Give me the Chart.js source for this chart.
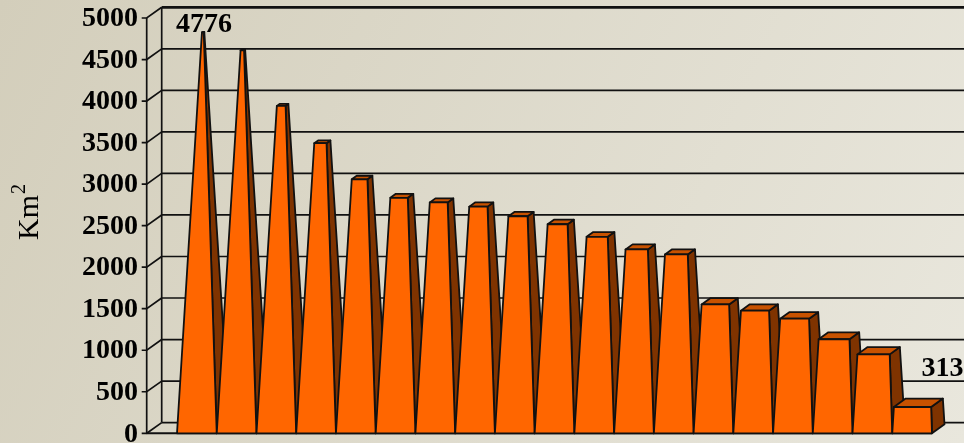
<!DOCTYPE html>
<html>
<head>
<meta charset="utf-8">
<script src="https://cdn.jsdelivr.net/npm/chart.js@4/dist/chart.umd.min.js"></script>
<style>
  html, body { margin: 0; padding: 0; overflow: hidden; background: #dcd8c7; }
  canvas { display: block; }
</style>
</head>
<body>
<canvas id="chart" width="964" height="443"></canvas>
<script>
'use strict';

// ── Data ─────────────────────────────────────────────────────────────────────
const categories = ['1','2','3','4','5','6','7','8','9','10','11','12','13','14','15','16','17','18','19'];
const areas      = [4776, 4560, 3900, 3455, 3025, 2805, 2750, 2700, 2585, 2490, 2340, 2190, 2130, 1535, 1460, 1365, 1120, 940, 313];
const yTicks     = [0, 500, 1000, 1500, 2000, 2500, 3000, 3500, 4000, 4500, 5000];
const labelled   = [0, 18];          // bars that carry a value label
const axisTitle  = 'Km';

// ── 3D look ──────────────────────────────────────────────────────────────────
const FRONT_X = 146.7;                       // front edge of the side wall
const WALL = { dx: 15, dy: -10.7 };          // depth of the back wall
const BAR  = { dx: 12.5, dy: -9 };           // depth of each pyramid
const INK  = '#111';
const SERIF = '"Liberation Serif", "Times New Roman", serif';
const LABEL_NUDGE = { 0: [1, 0], 18: [24, -27] };

const pyramid3d = {
  id: 'pyramid3d',

  beforeDraw(chart) {
    const { ctx, width, height } = chart;
    const y = chart.scales.y;
    const g = ctx.createLinearGradient(0, 0, width, height);
    g.addColorStop(0, '#d3cebb');
    g.addColorStop(1, '#e9e7dd');
    ctx.save();
    ctx.fillStyle = g;
    ctx.fillRect(0, 0, width, height);

    // tick labels
    ctx.fillStyle = '#000';
    ctx.font = 'bold 28px ' + SERIF;
    ctx.textAlign = 'right';
    ctx.textBaseline = 'middle';
    yTicks.forEach(v => ctx.fillText(String(v), 138, y.getPixelForValue(v) + 1));

    // y axis title, rotated, with a raised "2"
    ctx.translate(38, 240);
    ctx.rotate(-Math.PI / 2);
    ctx.textBaseline = 'alphabetic';
    ctx.textAlign = 'left';
    ctx.font = '30px ' + SERIF;
    ctx.fillText(axisTitle, 0, 0);
    const w = ctx.measureText(axisTitle).width;
    ctx.font = '20px ' + SERIF;
    ctx.fillText('2', w + 1, -13);
    ctx.restore();
  },

  beforeDatasetsDraw(chart) {
    const { ctx, width } = chart;
    const y = chart.scales.y;
    const backX = FRONT_X + WALL.dx;
    ctx.save();
    ctx.strokeStyle = INK;
    ctx.lineCap = 'butt';

    yTicks.forEach(v => {
      const py = y.getPixelForValue(v);
      ctx.lineWidth = v === y.max ? 2.8 : 1.7;
      ctx.beginPath();
      ctx.moveTo(backX, py + WALL.dy);
      ctx.lineTo(width, py + WALL.dy);
      ctx.stroke();
      ctx.lineWidth = 1.7;
      ctx.beginPath();
      ctx.moveTo(FRONT_X - 5, py);
      ctx.lineTo(FRONT_X, py);
      ctx.lineTo(backX, py + WALL.dy);
      ctx.stroke();
    });

    const top = y.getPixelForValue(y.max), bot = y.getPixelForValue(0);
    ctx.lineWidth = 1.7;
    ctx.beginPath();
    ctx.moveTo(FRONT_X, top); ctx.lineTo(FRONT_X, bot);
    ctx.moveTo(backX, top + WALL.dy); ctx.lineTo(backX, bot + WALL.dy);
    ctx.stroke();
    ctx.lineWidth = 2;
    ctx.beginPath();
    ctx.moveTo(FRONT_X, bot); ctx.lineTo(chart.chartArea.right, bot);
    ctx.stroke();
    ctx.restore();
  },

  afterDatasetsDraw(chart) {
    const { ctx } = chart;
    const y = chart.scales.y;
    const meta = chart.getDatasetMeta(0);
    const H = y.max;

    const P = (u, s, val) => [u + s * BAR.dx, y.getPixelForValue(val) + s * BAR.dy];
    const face = (pts, fill) => {
      ctx.beginPath();
      pts.forEach((p, i) => i ? ctx.lineTo(p[0], p[1]) : ctx.moveTo(p[0], p[1]));
      ctx.closePath();
      ctx.fillStyle = fill;
      ctx.fill();
      ctx.stroke();
    };

    ctx.save();
    ctx.strokeStyle = INK;
    ctx.lineWidth = 1.8;
    ctx.lineJoin = 'round';

    meta.data.forEach((el, i) => {
      const v = areas[i];
      const c = el.x, w = el.width;
      const xL = c - w / 2, xR = c + w / 2;
      const f = v / H, t = 1 - f;
      const uL = c - t * w / 2, uR = c + t * w / 2;
      const s0 = f / 2, s1 = 1 - f / 2;

      face([P(xR, 0, 0), P(xR, 1, 0), P(uR, s1, v), P(uR, s0, v)], '#7f3300');
      face([P(uL, s0, v), P(uR, s0, v), P(uR, s1, v), P(uL, s1, v)], '#c85200');
      face([P(xL, 0, 0), P(xR, 0, 0), P(uR, s0, v), P(uL, s0, v)], '#ff6600');
    });

    ctx.fillStyle = '#000';
    ctx.font = 'bold 28px ' + SERIF;
    ctx.textAlign = 'center';
    ctx.textBaseline = 'alphabetic';
    labelled.forEach(i => {
      const el = meta.data[i];
      const apex = P(el.x, 0.5, areas[i]);
      const n = LABEL_NUDGE[i] || [0, -4];
      ctx.fillText(String(areas[i]), apex[0] + n[0], apex[1] + n[1]);
    });
    ctx.restore();
  }
};

new Chart(document.getElementById('chart'), {
  type: 'bar',
  data: {
    labels: categories,
    datasets: [{
      data: areas,
      backgroundColor: 'rgba(0,0,0,0)',
      borderWidth: 0,
      categoryPercentage: 1,
      barPercentage: 1
    }]
  },
  options: {
    responsive: false,
    animation: false,
    events: [],
    layout: { padding: { top: 18, bottom: 9.7, right: 32, left: 177 } },
    plugins: { legend: { display: false }, tooltip: { enabled: false } },
    scales: {
      x: { display: false },
      y: { display: false, min: 0, max: 5000 }
    }
  },
  plugins: [pyramid3d]
});
</script>
</body>
</html>
